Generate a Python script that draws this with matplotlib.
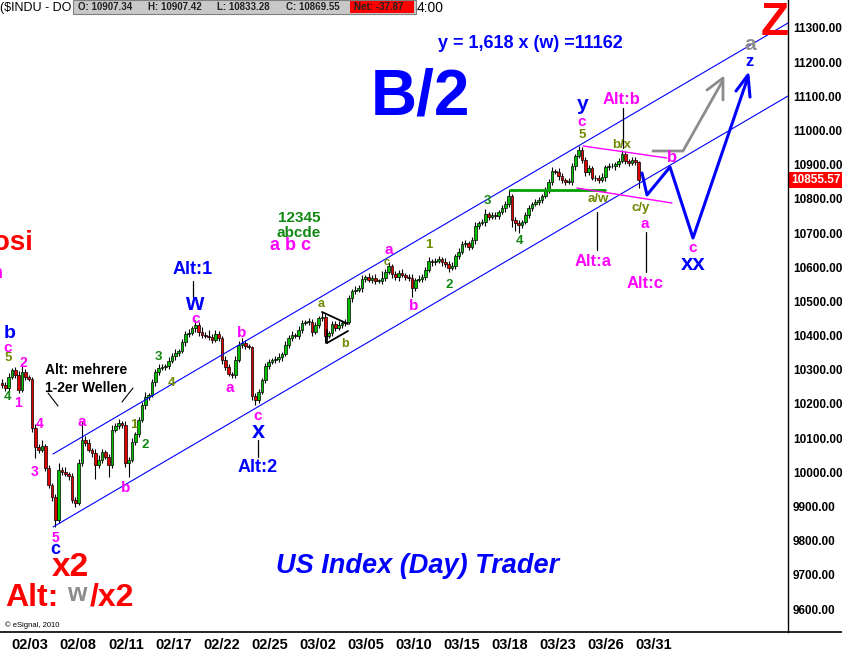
import matplotlib
matplotlib.use("Agg")
import matplotlib.pyplot as plt
import matplotlib.transforms as mtransforms
from matplotlib.lines import Line2D
from matplotlib.patches import Rectangle

plt.rcParams['font.family'] = ['Liberation Sans', 'DejaVu Sans']
plt.rcParams['font.weight'] = 'bold'

W, H = 842, 653

# hourly-ish closes, 02/02 .. 03/31
closes = [
    10256, 10247, 10279, 10299, 10285, 10241, 10294, 10279, 10273, 10130, 10074, 10065, 10077, 10013, 9963, 9928,
    9861, 10007, 10001, 9995, 9989, 9919, 9910, 10027, 10095, 10086, 10065, 10057, 10021, 10036, 10060, 10045,
    10021, 10124, 10136, 10144, 10139, 10027, 10036, 10089, 10112, 10153, 10197, 10220, 10226, 10264, 10294, 10305,
    10308, 10311, 10326, 10340, 10349, 10355, 10381, 10405, 10408, 10422, 10431, 10411, 10402, 10399, 10396, 10387,
    10405, 10393, 10329, 10308, 10288, 10285, 10329, 10373, 10378, 10370, 10367, 10223, 10212, 10235, 10270, 10311,
    10323, 10329, 10332, 10337, 10346, 10373, 10393, 10402, 10399, 10417, 10437, 10440, 10440, 10411, 10431, 10452,
    10454, 10399, 10408, 10434, 10422, 10431, 10437, 10440, 10510, 10530, 10533, 10539, 10566, 10571, 10563, 10569,
    10560, 10560, 10569, 10586, 10604, 10580, 10571, 10583, 10577, 10571, 10569, 10539, 10563, 10566, 10571, 10592,
    10618, 10615, 10618, 10624, 10615, 10610, 10598, 10604, 10633, 10645, 10668, 10671, 10659, 10680, 10721, 10729,
    10732, 10756, 10747, 10753, 10750, 10762, 10773, 10785, 10808, 10738, 10729, 10724, 10732, 10753, 10773, 10785,
    10791, 10797, 10808, 10826, 10850, 10882, 10879, 10867, 10855, 10850, 10850, 10896, 10926, 10943, 10914, 10879,
    10890, 10861, 10861, 10855, 10864, 10893, 10896, 10896, 10902, 10911, 10931, 10911, 10905, 10914, 10908, 10856,
]
# wick lengths above / below the body
wick_up = [
    10, 8, 12, 6, 10, 12, 17, 8, 6, 5, 10, 8, 18, 6, 8, 6,
    10, 20, 8, 14, 6, 10, 8, 12, 52, 10, 12, 6, 10, 14, 8, 6,
    10, 14, 8, 12, 6, 10, 8, 12, 6, 10, 8, 14, 6, 10, 8, 12,
    8, 6, 10, 8, 12, 6, 10, 8, 12, 6, 15, 10, 14, 8, 18, 10,
    12, 8, 6, 10, 8, 6, 12, 10, 14, 8, 6, 4, 8, 10, 6, 8,
    10, 6, 8, 12, 6, 10, 8, 12, 6, 10, 8, 6, 12, 8, 10, 6,
    15, 8, 6, 10, 8, 12, 6, 8, 10, 6, 12, 8, 10, 6, 12, 8,
    10, 6, 20, 8, 11, 6, 10, 8, 12, 6, 8, 10, 6, 12, 8, 10,
    12, 6, 10, 8, 6, 12, 8, 10, 6, 12, 8, 10, 6, 8, 12, 6,
    10, 14, 6, 10, 8, 6, 10, 8, 18, 6, 10, 8, 6, 10, 8, 6,
    10, 8, 6, 10, 8, 12, 6, 10, 8, 6, 10, 8, 6, 12, 8, 10,
    8, 6, 10, 8, 12, 6, 10, 8, 6, 10, 12, 8, 6, 10, 8, 4,
]
wick_dn = [
    8, 8, 10, 6, 8, 8, 6, 10, 6, 12, 32, 8, 6, 10, 8, 12,
    21, 10, 8, 6, 12, 8, 10, 6, 8, 10, 6, 12, 40, 8, 10, 6,
    35, 8, 6, 10, 8, 12, 41, 6, 10, 8, 6, 12, 8, 6, 10, 8,
    6, 10, 8, 6, 12, 8, 6, 10, 8, 6, 10, 12, 8, 6, 10, 8,
    6, 10, 12, 8, 6, 10, 8, 6, 10, 8, 6, 10, 15, 8, 6, 10,
    8, 6, 10, 8, 12, 6, 8, 10, 6, 8, 10, 6, 8, 12, 6, 10,
    8, 21, 6, 10, 8, 6, 10, 8, 6, 12, 8, 6, 10, 8, 6, 10,
    8, 6, 10, 8, 6, 12, 8, 10, 6, 8, 10, 26, 8, 6, 10, 8,
    6, 10, 8, 6, 12, 8, 12, 6, 10, 8, 6, 10, 8, 6, 12, 8,
    6, 10, 8, 6, 10, 8, 6, 10, 8, 20, 22, 24, 8, 6, 10, 8,
    6, 10, 8, 6, 10, 8, 6, 12, 8, 10, 6, 8, 10, 6, 8, 12,
    8, 6, 10, 8, 6, 12, 8, 6, 10, 8, 6, 10, 8, 6, 10, 23,
]
first_open = 10262

date_labels = ['02/03', '02/08', '02/11', '02/17', '02/22', '02/25', '03/02',
               '03/05', '03/10', '03/15', '03/18', '03/23', '03/26', '03/31']
price_ticks = list(range(9600, 11301, 100))
last_price = 10855.57
header_ohlc = ['O: 10907.34', 'H: 10907.42', 'L: 10833.28', 'C: 10869.55']
header_net = 'Net: -37.87'

opens = [first_open] + closes[:-1]
highs = [max(o, c) + w for o, c, w in zip(opens, closes, wick_up)]
lows = [min(o, c) - w for o, c, w in zip(opens, closes, wick_dn)]
idx = list(range(len(closes)))

# colours
BLUE = '#0000FF'
MAG = '#FF00FF'
RED = '#FF0000'
GREEN = '#118811'
OLIVE = '#6E8A00'
GRAY = '#8C8C8C'

fig = plt.figure(figsize=(W / 100, H / 100), dpi=100)
fig.patch.set_facecolor('white')
ax = fig.add_axes([0, 21 / H, 788 / W, 632 / H])
for s in ax.spines.values():
    s.set_visible(False)

# pixel transform for the hand drawn annotations (origin top left)
pix = mtransforms.Affine2D().scale(1, -1).translate(0, H)

# candles
bar_px = 3.333
x_start = 2
body = [c - o if abs(c - o) > 1.5 else 1.5 for o, c in zip(opens, closes)]
cols = ['#00C000' if c >= o else '#E00000' for o, c in zip(opens, closes)]
ax.vlines(idx, lows, highs, color='black', lw=0.8, zorder=2)
ax.bar(idx, body, bottom=opens, width=0.75, color=cols, edgecolor='black', linewidth=0.5, zorder=3)

ax.set_xlim(-x_start / bar_px, (788 - x_start) / bar_px)
ax.set_ylim(11300 - 604 * 2.9257, 11300 + 28 * 2.9257)

tick_pos = [(30 + 48 * k - x_start) / bar_px for k in range(len(date_labels))]
ax.set_xticks(tick_pos)
ax.set_xticklabels(date_labels)
ax.tick_params(axis='x', length=0, pad=4, labelsize=10.5)
for lbl in ax.get_xticklabels():
    lbl.set_fontfamily(['Liberation Sans Narrow', 'Liberation Sans'])

ax.yaxis.tick_right()
ax.set_yticks(price_ticks)
ax.set_yticklabels([f'{p:.2f}' for p in price_ticks])
ax.tick_params(axis='y', length=0, pad=3.5, labelsize=8.5)
ax.text(1.004, last_price, f'{last_price:.2f}', transform=ax.get_yaxis_transform(),
        color='white', fontsize=8.5, ha='left', va='center', clip_on=False,
        bbox=dict(boxstyle='square,pad=0.2', fc='#FF0000', ec='none'))

# frame lines
fig.add_artist(Line2D([0, W], [632, 632], transform=pix, color='black', lw=1.2))
fig.add_artist(Line2D([788, 788], [0, 632], transform=pix, color='black', lw=1.0))


def seg(xs, ys, color, lw=1.0, z=4):
    ax.plot(xs, ys, transform=pix, color=color, lw=lw, zorder=z, solid_capstyle='round')


def lab(px, py, s, color, size, ha='center', va='center', weight='bold', **kw):
    ax.text(px, py, s, transform=pix, ha=ha, va=va,
            color=color, fontsize=size, fontweight=weight, zorder=6, **kw)


# trend channel
seg([53, 788], [454, 23], BLUE, 0.8)
seg([53, 788], [527, 96], BLUE, 0.8)

# pointer lines
seg([48, 58], [393, 406], 'black', 0.8)
seg([133, 122], [388, 402], 'black', 0.8)
seg([193, 193], [281, 297], 'black', 0.9)
seg([258, 258], [440, 457], 'black', 0.9)
seg([623, 623], [108, 148], 'black', 0.9)
seg([597, 597], [212, 250], 'black', 0.9)
seg([646, 646], [232, 272], 'black', 0.9)
# triangle
seg([322, 348], [312, 324], 'black', 1.3)
seg([327, 348], [343, 331], 'black', 1.3)
seg([327, 327], [330, 343], 'black', 1.3)
# support line and pink triangle
seg([510, 605], [190, 190], '#00A000', 2.0)
seg([583, 667], [146, 158], MAG, 1.0)
seg([577, 672], [188, 203], MAG, 1.0)

# projected paths
seg([653, 683, 722], [151, 151, 82], GRAY, 2.0)
seg([707, 723, 723], [90, 78, 100], GRAY, 2.0)
seg([642, 647, 670, 693, 748], [173, 195, 167, 238, 77], BLUE, 2.2)
seg([736, 748, 750], [91, 75, 97], BLUE, 2.2)

# wave labels
labels = [
    ('b', 10, 334, BLUE, 14), ('c', 8, 348, MAG, 11), ('5', 8, 358, OLIVE, 9.5),
    ('4', 7, 397, GREEN, 9.5), ('1', 18, 403, MAG, 10), ('2', 23, 363, MAG, 10),
    ('4', 40, 424, MAG, 10), ('3', 35, 472, MAG, 10), ('5', 55, 538, MAG, 10),
    ('c', 55, 550, BLUE, 13), ('a', 82, 422, MAG, 11), ('b', 126, 488, MAG, 11),
    ('1', 134, 425, OLIVE, 9.5), ('2', 145, 445, GREEN, 9.5), ('3', 158, 357, GREEN, 9.5),
    ('4', 171, 383, OLIVE, 9.5), ('Alt:1', 193, 270, BLUE, 13), ('w', 194, 304, BLUE, 17),
    ('c', 196, 319, MAG, 11), ('a', 230, 388, MAG, 11), ('b', 242, 333, MAG, 11),
    ('c', 258, 416, MAG, 11), ('x', 258, 431, BLUE, 17), ('Alt:2', 258, 468, BLUE, 13),
    ('a', 321, 304, OLIVE, 9), ('b', 345, 344, OLIVE, 9), ('a', 389, 250, MAG, 11),
    ('c', 387, 262, OLIVE, 8), ('b', 414, 306, MAG, 11), ('1', 429, 245, OLIVE, 9.5),
    ('2', 449, 285, GREEN, 9.5), ('3', 487, 201, GREEN, 9.5), ('4', 520, 241, GREEN, 9.5),
    ('y', 583, 104, BLUE, 15), ('c', 582, 122, MAG, 11), ('5', 582, 135, OLIVE, 9.5),
    ('Alt:b', 622, 100, MAG, 12), ('b/x', 622, 145, OLIVE, 9.5), ('a/w', 598, 199, OLIVE, 9.5),
    ('c/y', 641, 208, OLIVE, 9.5), ('a', 645, 224, MAG, 11), ('Alt:a', 593, 262, MAG, 12),
    ('Alt:c', 645, 284, MAG, 12), ('b', 672, 157, MAG, 12), ('c', 693, 248, MAG, 11),
    ('xx', 693, 264, BLUE, 16), ('a', 750, 45, GRAY, 15), ('z', 750, 62, BLUE, 12),
    ('12345', 299, 218, GREEN, 11), ('abcde', 299, 233, GREEN, 11), ('a b c', 290, 245, MAG, 13),
]
for s, px, py, c, sz in labels:
    lab(px, py, s, c, sz)

lab(45, 370, 'Alt: mehrere', 'black', 10, ha='left')
lab(45, 388, '1-2er Wellen', 'black', 10, ha='left')
lab(33, 243, 'posi', RED, 20, ha='right', clip_on=True)
lab(3, 273, 'h', MAG, 13, ha='right', clip_on=True)

lab(420, 97, 'B/2', BLUE, 46)
lab(530, 44, 'y = 1,618 x (w) =11162', BLUE, 13)
lab(418, 566, 'US Index (Day) Trader', BLUE, 19.5, style='italic')
lab(70, 568, 'x2', RED, 24)
lab(5, 598, 'Alt:', RED, 23, ha='left')
lab(77, 594, 'w', GRAY, 18)
lab(90, 598, '/x2', RED, 23, ha='left')
lab(5, 625, '\u00a9 eSignal, 2010', 'black', 5.5, ha='left', weight='normal')

fig.text(775, 1, 'Z', transform=pix, color=RED, fontsize=33, fontweight='bold', ha='center', va='top')

# header
fig.text(0, 8, '($INDU - DO', transform=pix, fontsize=9, fontweight='normal', ha='left', va='center')
fig.add_artist(Rectangle((73, 0), 343, 14, transform=pix, fc='#C8C8C8', ec='#7F7F7F', lw=0.8))
fig.add_artist(Rectangle((350, 1), 64, 12, transform=pix, fc='#FF0000', ec='none'))
for s, px in zip(header_ohlc + [header_net], [78, 148, 217, 286, 354]):
    fig.text(px, 7, s, transform=pix, fontsize=7, fontweight='bold', ha='left', va='center', color='#202020')
fig.text(417, 8, '4:00', transform=pix, fontsize=10, fontweight='normal', ha='left', va='center')

fig.savefig('out.png', dpi=100, facecolor='white')
